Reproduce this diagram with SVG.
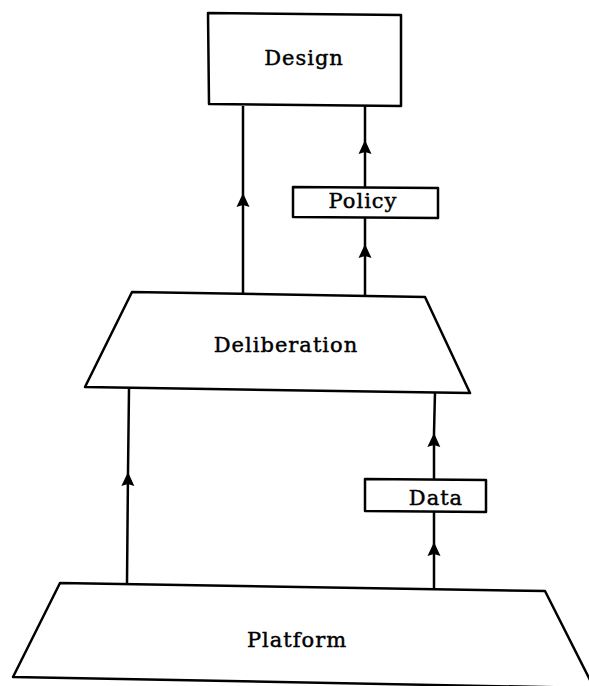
<svg xmlns="http://www.w3.org/2000/svg" width="589" height="686" viewBox="0 0 589 686">
  <defs>
    <style>
      .box { fill: #ffffff; stroke: #000000; stroke-width: 2.5; stroke-linejoin: round; }
      .wire { fill: none; stroke: #000000; stroke-width: 2.5; marker-mid: url(#head); }
      .lbl { font-family: "DejaVu Serif", "Liberation Serif", serif; font-size: 21px; letter-spacing: 1px; fill: #000000; stroke: #000000; stroke-width: 0.45; text-anchor: middle; }
    </style>
    <!-- upward arrowhead placed at the middle vertex of each connector -->
    <marker id="head" markerUnits="userSpaceOnUse" markerWidth="16" markerHeight="14" refX="14" refY="7" orient="auto">
      <path d="M0,0.5 L14,7 L0,13.5 L2,7 Z" fill="#000000"/>
    </marker>
  </defs>
  <rect width="589" height="686" fill="#ffffff"/>

  <g id="connectors">
    <!-- Deliberation to Design -->
    <path class="wire" d="M243,294 L243,193 L243,106"/>
    <!-- Deliberation to Policy -->
    <path class="wire" d="M365,296 L365,244 L365,218"/>
    <!-- Policy to Design -->
    <path class="wire" d="M365,187 L365,140 L365,106"/>
    <!-- Platform to Deliberation -->
    <path class="wire" d="M127,583 L128,472 L129,389"/>
    <!-- Platform to Data -->
    <path class="wire" d="M434,589 L434,542 L434,511"/>
    <!-- Data to Deliberation -->
    <path class="wire" d="M434,479 L434,433 L435,392"/>
  </g>

  <g id="design">
    <path class="box" d="M208,13 L401,15 L401,106 L209,104 Z"/>
    <text class="lbl" x="304" y="65">Design</text>
  </g>

  <g id="policy">
    <path class="box" d="M293,187 L438,188 L438,218 L293,217 Z"/>
    <text class="lbl" x="363" y="208">Policy</text>
  </g>

  <g id="deliberation">
    <path class="box" d="M132,292 L425,297 L470,393 L85,387 Z"/>
    <text class="lbl" x="286" y="352">Deliberation</text>
  </g>

  <g id="data">
    <path class="box" d="M365,479 L486,480 L486,512 L365,511 Z"/>
    <text class="lbl" x="436" y="505">Data</text>
  </g>

  <g id="platform">
    <path class="box" d="M60,583 L545,591 L594,688 L13,677 Z"/>
    <text class="lbl" x="297" y="647">Platform</text>
  </g>
</svg>
